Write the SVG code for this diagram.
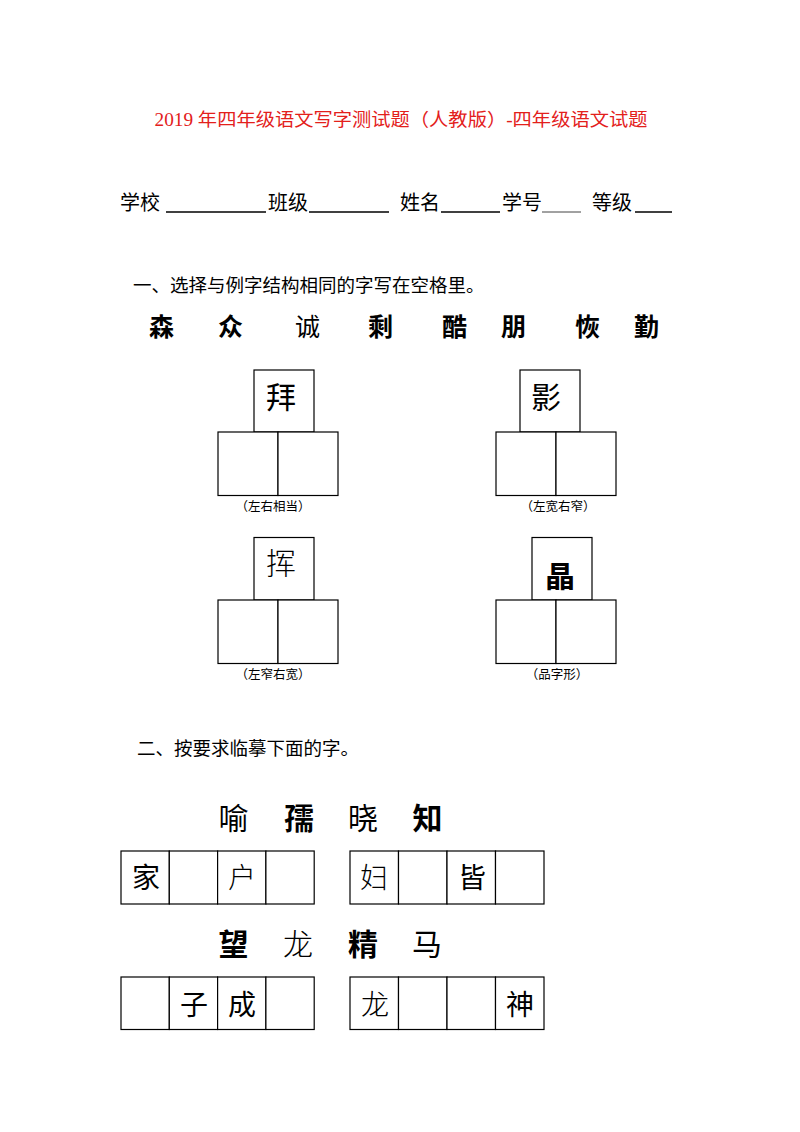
<svg xmlns="http://www.w3.org/2000/svg" width="800" height="1132" viewBox="0 0 800 1132">
<style>
.t{font-family:"Liberation Serif","Noto Sans CJK SC",serif;font-size:18px;fill:#e3201b}
.s{font-family:"Liberation Sans","Noto Sans CJK SC",sans-serif;fill:#000}
.b{font-weight:bold}
.l{font-weight:300}
.box{fill:#fff;stroke:#000;stroke-width:1.2}
.ul{stroke:#000;stroke-width:1.5}
.c{text-anchor:middle}
</style>
<rect width="800" height="1132" fill="#fff"/>
<g id="title"><text class="t c" x="401" y="126" textLength="493" lengthAdjust="spacingAndGlyphs">2019 年四年级语文写字测试题（人教版）-四年级语文试题</text></g>
<g id="info" class="s" font-size="20">
<text x="120" y="210">学校</text>
<line class="ul" x1="166" y1="212" x2="266" y2="212"/>
<text x="268" y="210">班级</text>
<line class="ul" x1="309" y1="212" x2="389" y2="212"/>
<text x="400" y="210">姓名</text>
<line class="ul" x1="441" y1="212" x2="500" y2="212"/>
<text x="502" y="210">学号</text>
<line x1="542" y1="212" x2="581" y2="212" stroke="#444" stroke-width="1"/>
<text x="592" y="210">等级</text>
<line class="ul" x1="635" y1="212" x2="672" y2="212"/>
</g>
<g id="section1">
<text class="s" x="133" y="292" font-size="18.5">一、选择与例字结构相同的字写在空格里。</text>
<g font-size="25" class="s c">
<text class="b" x="161.5" y="336">森</text>
<text class="b" x="230.5" y="336">众</text>
<text x="307.5" y="336">诚</text>
<text class="b" x="380.5" y="336">剩</text>
<text class="b" x="454.5" y="336">酷</text>
<text class="b" x="513.5" y="336">朋</text>
<text class="b" x="587.5" y="336">恢</text>
<text class="b" x="646.5" y="336">勤</text>
</g>
</g>
<g id="grp-bai">
<rect class="box" x="254" y="370" width="60" height="62"/>
<rect class="box" x="218" y="432" width="60" height="63.5"/>
<rect class="box" x="278" y="432" width="60" height="63.5"/>
<text class="s c" x="281" y="408" font-size="30">拜</text>
<text class="s c" x="273" y="511" font-size="12.5">（左右相当）</text>
</g>
<g id="grp-ying">
<rect class="box" x="520" y="370" width="60" height="62"/>
<rect class="box" x="496" y="432" width="60" height="63.5"/>
<rect class="box" x="556" y="432" width="60" height="63.5"/>
<text class="s c" x="546" y="408" font-size="30">影</text>
<text class="s c" x="558" y="511" font-size="12.5">（左宽右窄）</text>
</g>
<g id="grp-hui">
<rect class="box" x="254" y="537.5" width="60" height="62.5"/>
<rect class="box" x="218" y="600" width="60" height="63.5"/>
<rect class="box" x="278" y="600" width="60" height="63.5"/>
<text class="s c l" x="281" y="574" font-size="30">挥</text>
<text class="s c" x="273" y="679" font-size="12.5">（左窄右宽）</text>
</g>
<g id="grp-jing">
<rect class="box" x="532" y="537.5" width="60" height="62.5"/>
<rect class="box" x="496" y="600" width="60" height="63.5"/>
<rect class="box" x="556" y="600" width="60" height="63.5"/>
<text class="s c b" x="560" y="587" font-size="30">晶</text>
<text class="s c" x="557" y="679" font-size="12.5">（品字形）</text>
</g>
<g id="section2">
<text class="s" x="137" y="755" font-size="18.5">二、按要求临摹下面的字。</text>
<g font-size="30" class="s c">
<text x="233.5" y="829">喻</text>
<text class="b" x="299" y="829">孺</text>
<text x="363" y="829">晓</text>
<text class="b" x="427.5" y="829">知</text>
<text class="b" x="233.5" y="955">望</text>
<text class="l" x="298" y="955">龙</text>
<text class="b" x="363" y="955">精</text>
<text x="427" y="955">马</text>
</g>
</g>
<g id="row1-left">
<rect class="box" x="121" y="851" width="48.3" height="53"/>
<rect class="box" x="169.3" y="851" width="48.3" height="53"/>
<rect class="box" x="217.6" y="851" width="48.3" height="53"/>
<rect class="box" x="265.9" y="851" width="48.3" height="53"/>
<text class="s c" x="146" y="888" font-size="28">家</text>
<text class="s c l" x="242" y="888" font-size="28">户</text>
</g>
<g id="row1-right">
<rect class="box" x="350" y="851" width="48.5" height="53"/>
<rect class="box" x="398.5" y="851" width="48.5" height="53"/>
<rect class="box" x="447" y="851" width="48.5" height="53"/>
<rect class="box" x="495.5" y="851" width="48.5" height="53"/>
<text class="s c l" x="374" y="888" font-size="28">妇</text>
<text class="s c" x="472" y="888" font-size="28">皆</text>
</g>
<g id="row2-left">
<rect class="box" x="121" y="977" width="48.3" height="52.5"/>
<rect class="box" x="169.3" y="977" width="48.3" height="52.5"/>
<rect class="box" x="217.6" y="977" width="48.3" height="52.5"/>
<rect class="box" x="265.9" y="977" width="48.3" height="52.5"/>
<text class="s c" x="194" y="1015" font-size="28">子</text>
<text class="s c" x="242" y="1015" font-size="28">成</text>
</g>
<g id="row2-right">
<rect class="box" x="350" y="977" width="48.5" height="52.5"/>
<rect class="box" x="398.5" y="977" width="48.5" height="52.5"/>
<rect class="box" x="447" y="977" width="48.5" height="52.5"/>
<rect class="box" x="495.5" y="977" width="48.5" height="52.5"/>
<text class="s c l" x="375" y="1015" font-size="28">龙</text>
<text class="s c" x="520" y="1015" font-size="28">神</text>
</g>
</svg>
